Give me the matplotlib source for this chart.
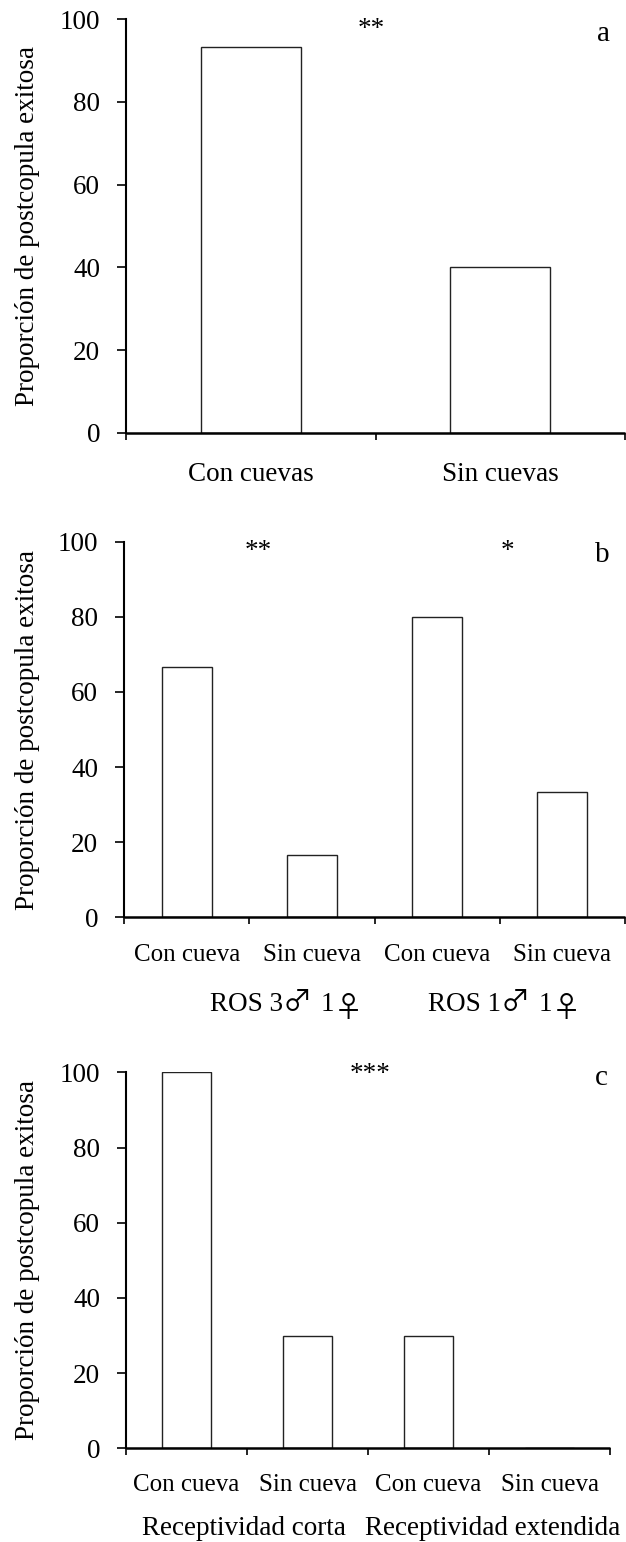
import matplotlib
matplotlib.use('Agg')
from matplotlib import pyplot as plt
import numpy as np

plt.rcParams['font.family'] = ['Liberation Serif', 'DejaVu Sans']
plt.rcParams['font.size'] = 19.5
SYM = ['Noto Sans CJK JP', 'DejaVu Sans']

ylabel = 'Proporción de postcopula exitosa'

cats_a = ['Con cuevas', 'Sin cuevas']
vals_a = [93.3, 40.0]

cats_b = ['Con cueva', 'Sin cueva', 'Con cueva', 'Sin cueva']
vals_b = [66.7, 16.7, 80.0, 33.3]
groups_b = [['ROS 3', '♂', ' 1', '♀'], ['ROS 1', '♂', ' 1', '♀']]

cats_c = ['Con cueva', 'Sin cueva', 'Con cueva', 'Sin cueva']
vals_c = [100.0, 30.0, 30.0, 0.0]
groups_c = ['Receptividad corta', 'Receptividad extendida']

W, H = 626, 1542
fig = plt.figure(figsize=(W/100, H/100), dpi=100)

def px_axes(left, right, top, bottom):
    return fig.add_axes([left/W, 1-bottom/H, (right-left)/W, (bottom-top)/H])

def panel(ax, cats, vals, lab_off, lab_size):
    n = len(cats)
    x = np.arange(n) + 0.5
    ax.bar(x, vals, width=0.4, color='white', edgecolor='#222222', linewidth=1.0)
    ax.set_xlim(0, n)
    ax.set_ylim(0, 100)
    ax.set_yticks([0, 20, 40, 60, 80, 100])
    ax.set_xticks(np.arange(n+1))
    ax.set_xticklabels([])
    ax.tick_params(axis='y', direction='out', length=6.5, width=1.2, pad=12)
    ax.tick_params(axis='x', direction='out', length=5, width=1.2)
    for s in ['top', 'right']:
        ax.spines[s].set_visible(False)
    ax.spines['left'].set_linewidth(1.5)
    ax.spines['bottom'].set_linewidth(1.8)
    ax.spines['bottom'].set_capstyle('butt')
    for xi, c in zip(x, cats):
        ax.annotate(c, xy=(xi, 0), xycoords=('data', 'axes fraction'),
                    xytext=(0, -lab_off), textcoords='offset points',
                    ha='center', va='center', fontsize=lab_size)
    ax.patch.set_visible(False)

def groups(ax, pos, labels, off):
    for xi, g in zip(pos, labels):
        ax.annotate(g, xy=(xi, 0), xycoords=('data', 'axes fraction'),
                    xytext=(0, -off), textcoords='offset points',
                    ha='center', va='center')

def sex_groups(ax, starts, pieces_list, base):
    # text and sex symbols chained piece by piece on one baseline
    for x0, pieces in zip(starts, pieces_list):
        prev = ax.annotate(pieces[0], xy=(x0, 0), xycoords=('data', 'axes fraction'),
                           xytext=(0, -base), textcoords='offset points',
                           ha='left', va='baseline')
        for p in pieces[1:]:
            sym = p.strip() in ('♂', '♀')
            dx = 0 if sym else 6
            dy = -4 if p == '♀' else 0
            prev = ax.annotate(p.strip(), xy=(1, 0), xycoords=(prev, 'axes fraction'),
                               xytext=(dx, -base + dy),
                               textcoords='offset points',
                               ha='left', va='baseline',
                               family=SYM if sym else None,
                               fontsize=21 if sym else None)

def ylab(top, bottom):
    fig.text(28/W, 1-(top+bottom)/2/H, ylabel, rotation=90,
             ha='center', va='center')

# panel a
ax1 = px_axes(126, 625, 19.3, 432.7)
panel(ax1, cats_a, vals_a, 30, 19.5)
ax1.text(0.985, 97.5, '**', ha='center', va='center')
ax1.text(1.915, 96.5, 'a', ha='center', va='center', fontsize=21)
ylab(19.3, 432.7)

# panel b
ax2 = px_axes(124, 625, 541.7, 917.3)
panel(ax2, cats_b, vals_b, 27, 18)
sex_groups(ax2, [0.685, 2.426], groups_b, 67.5)
ax2.text(1.076, 97.5, '**', ha='center', va='center')
ax2.text(3.06, 97.5, '*', ha='center', va='center')
ax2.text(3.82, 96.5, 'b', ha='center', va='center', fontsize=21)
ylab(541.7, 917.3)

# panel c
ax3 = px_axes(126, 610, 1072.3, 1448.3)
panel(ax3, cats_c, vals_c, 26.4, 18)
groups(ax3, [0.975, 3.03], groups_c, 57.4)
ax3.text(2.02, 99.5, '***', ha='center', va='center')
ax3.text(3.93, 98.5, 'c', ha='center', va='center', fontsize=21)
ylab(1072.3, 1448.3)

fig.savefig('out.png', dpi=100)
